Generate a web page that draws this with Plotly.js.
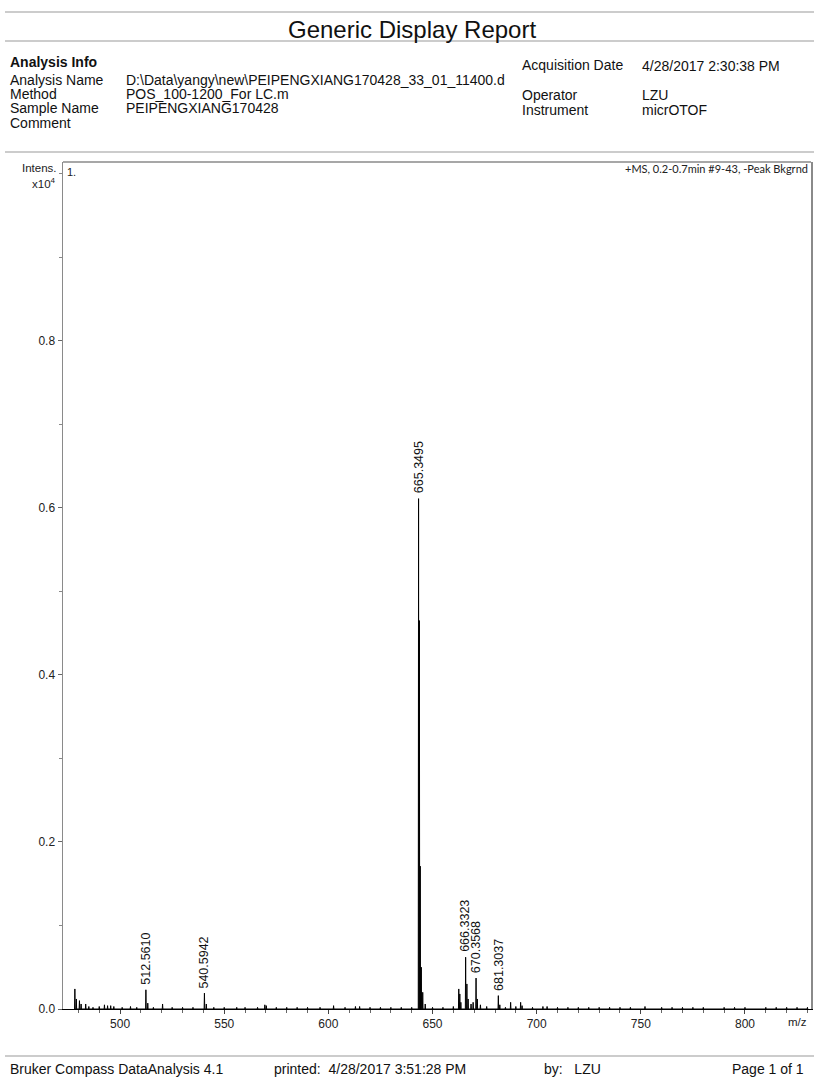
<!DOCTYPE html>
<html>
<head>
<meta charset="utf-8">
<script src="https://cdn.plot.ly/plotly-3.0.1.min.js"></script>
<style>html,body{margin:0;padding:0;background:#fff;}#chart{width:814px;height:1077px;}</style>
</head>
<body>
<div id="chart"></div>
<script>
// ---- data: stick peaks (m/z, intensity x10^4) ----
const peakMz = [478.3, 479.0, 480.5, 481.3, 483.5, 485.0, 487.0, 490.0, 492.5, 494.0, 495.5, 497.0,
  501.0, 505.0, 508.0, 512.4, 513.3, 516.0, 520.4, 525.0, 530.0, 535.0, 540.5, 541.4, 545.0, 550.0, 556.0, 560.0, 566.0,
  569.5, 570.2, 575.0, 580.0, 585.0, 590.0, 596.0, 602.5, 608.0, 613.0, 615.0, 620.0, 625.0, 630.0,
  635.0, 640.0, 643.3, 643.7, 644.1, 644.6, 645.3, 646.5, 650.0, 655.0, 660.0, 662.6, 663.1, 663.6,
  665.9, 666.5, 667.1, 668.5, 669.5, 670.9, 671.5, 673.0, 676.0, 681.6, 682.3, 685.0, 687.5, 690.0,
  692.3, 693.0, 698.0, 703.0, 705.0, 710.0, 715.0, 720.0, 725.0, 730.0, 735.0, 740.0, 745.0, 752.0,
  760.0, 765.0, 770.0, 775.0, 780.0, 790.0, 795.0, 800.0, 810.0, 815.0, 820.0, 825.0, 830.0];
const peakInt = [0.024, 0.012, 0.010, 0.006, 0.006, 0.003, 0.002, 0.003, 0.005, 0.004, 0.004, 0.003,
  0.002, 0.003, 0.002, 0.023, 0.007, 0.002, 0.006, 0.002, 0.002, 0.002, 0.019, 0.006, 0.002, 0.002, 0.002, 0.002, 0.002,
  0.005, 0.004, 0.002, 0.002, 0.002, 0.002, 0.002, 0.004, 0.002, 0.003, 0.003, 0.002, 0.002, 0.002,
  0.002, 0.002, 0.611, 0.465, 0.171, 0.050, 0.020, 0.006, 0.002, 0.002, 0.003, 0.024, 0.018, 0.008,
  0.062, 0.030, 0.012, 0.006, 0.008, 0.037, 0.012, 0.005, 0.003, 0.016, 0.005, 0.002, 0.008, 0.003,
  0.008, 0.004, 0.002, 0.003, 0.003, 0.002, 0.002, 0.002, 0.002, 0.002, 0.002, 0.002, 0.002, 0.003,
  0.002, 0.002, 0.002, 0.002, 0.002, 0.002, 0.002, 0.002, 0.002, 0.002, 0.002, 0.002, 0.002];
// labelled peaks: m/z of the stick that carries each printed label
const labelPeakMz = [512.4, 540.5, 643.3, 665.9, 670.9, 681.6];
const labelText = ["512.5610", "540.5942", "665.3495", "666.3323", "670.3568", "681.3037"];
const xTickVals = [500, 550, 600, 650, 700, 750, 800];
const yTickVals = [0.0, 0.2, 0.4, 0.6, 0.8];
const yTickText = ["0.0", "0.2", "0.4", "0.6", "0.8"];

// ---- geometry helpers (page pixels -> paper coords) ----
const L = 63, R = 811, T = 162, B = 1009;
const W = R - L, H = B - T;
const px = x => (x - L) / W;
const py = y => (B - y) / H;

// build stick profile
const sx = [], sy = [];
const hw = 0.15;
for (let i = 0; i < peakMz.length; i++) {
  sx.push(peakMz[i] - hw, peakMz[i], peakMz[i] + hw);
  sy.push(0, peakInt[i], 0);
}

const FONT = "Liberation Sans, Arial, sans-serif";
const ann = [];
// peak labels
for (let k = 0; k < labelPeakMz.length; k++) {
  const i = peakMz.indexOf(labelPeakMz[k]);
  ann.push({x: peakMz[i], y: peakInt[i], xref: 'x', yref: 'y', text: labelText[k], showarrow: false,
    textangle: -90, xanchor: 'center', yanchor: 'bottom', yshift: 3,
    font: {family: FONT, size: 12.5, color: '#111'}});
}
function txt(t, x, y, opts) {
  ann.push(Object.assign({x: px(x), y: py(y), xref: 'paper', yref: 'paper', text: t, showarrow: false,
    xanchor: 'left', yanchor: 'middle', font: {family: FONT, size: 14, color: '#111'}}, opts || {}));
}
txt("Generic Display Report", 412, 30, {xanchor: 'center', font: {family: FONT, size: 24, color: '#111'}});
txt("<b>Analysis Info</b>", 8, 62);
txt("Analysis Name", 8, 80);
txt("Method", 8, 94);
txt("Sample Name", 8, 108);
txt("Comment", 8, 123);
txt("D:\\Data\\yangy\\new\\PEIPENGXIANG170428_33_01_11400.d", 124, 80);
txt("POS_100-1200_For LC.m", 124, 94);
txt("PEIPENGXIANG170428", 124, 108);
txt("Acquisition Date", 520, 65);
txt("4/28/2017 2:30:38 PM", 640, 66);
txt("Operator", 520, 95);
txt("LZU", 640, 95);
txt("Instrument", 520, 109.5);
txt("micrOTOF", 640, 109.5);
txt("Intens.", 59, 168, {xanchor: 'right', font: {family: FONT, size: 11.5, color: '#222'}});
txt("x10<sup>4</sup>", 58, 183, {xanchor: 'right', font: {family: FONT, size: 11.5, color: '#222'}});
txt("1.", 65, 172, {font: {family: FONT, size: 11, color: '#222'}});
txt("+MS, 0.2-0.7min #9-43, -Peak Bkgrnd", 810, 169, {xanchor: 'right', font: {family: "Lato, sans-serif", size: 11, color: '#222'}});
txt("m/z", 797, 1022, {xanchor: 'center', font: {family: FONT, size: 11.5, color: '#222'}});
txt("Bruker Compass DataAnalysis 4.1", 8, 1069);
txt("printed:  4/28/2017 3:51:28 PM", 272, 1069);
txt("by:   LZU", 542, 1069);
txt("Page 1 of 1", 806, 1069, {xanchor: 'right'});

function hline(y, x0, x1, color, w) {
  return {type: 'line', xref: 'paper', yref: 'paper', x0: px(x0), x1: px(x1), y0: py(y), y1: py(y),
    line: {color: color, width: w}};
}
const shapes = [
  hline(12, 5, 814, '#9a9a9a', 1.2),
  hline(41, 5, 814, '#9a9a9a', 1.2),
  hline(152, 5, 814, '#9a9a9a', 1.2),
  hline(1056, 5, 814, '#9a9a9a', 1.2),
  hline(T, L, R, '#8a8a8a', 1.5)
];

const trace = {x: sx, y: sy, type: 'scatter', mode: 'lines', line: {color: '#000', width: 1}, hoverinfo: 'skip'};

const layout = {
  width: 814, height: 1077,
  margin: {l: L, r: 814 - R, t: T, b: 1077 - B, pad: 0},
  paper_bgcolor: '#fff', plot_bgcolor: '#fff',
  showlegend: false,
  xaxis: {range: [472.6, 831.7], tickvals: xTickVals, ticktext: xTickVals.map(String),
    ticks: 'outside', ticklen: 4, tickcolor: '#444', showgrid: false, zeroline: false,
    showline: true, linecolor: '#000', linewidth: 1,
    minor: {dtick: 10, tick0: 0, ticks: 'outside', ticklen: 3, tickcolor: '#666', showgrid: false},
    tickfont: {family: FONT, size: 12, color: '#222'}},
  yaxis: {range: [0, 1.014], tickvals: yTickVals, ticktext: yTickText,
    ticks: 'outside', ticklen: 4, tickcolor: '#666', showgrid: false, zeroline: false,
    showline: true, mirror: true, linecolor: '#8a8a8a', linewidth: 1.5,
    minor: {dtick: 0.1, tick0: 0, ticks: 'outside', ticklen: 3, tickcolor: '#888', showgrid: false},
    tickfont: {family: FONT, size: 12, color: '#222'}},
  annotations: ann,
  shapes: shapes
};
Plotly.newPlot('chart', [trace], layout, {staticPlot: true, displayModeBar: false});
</script>
</body>
</html>
